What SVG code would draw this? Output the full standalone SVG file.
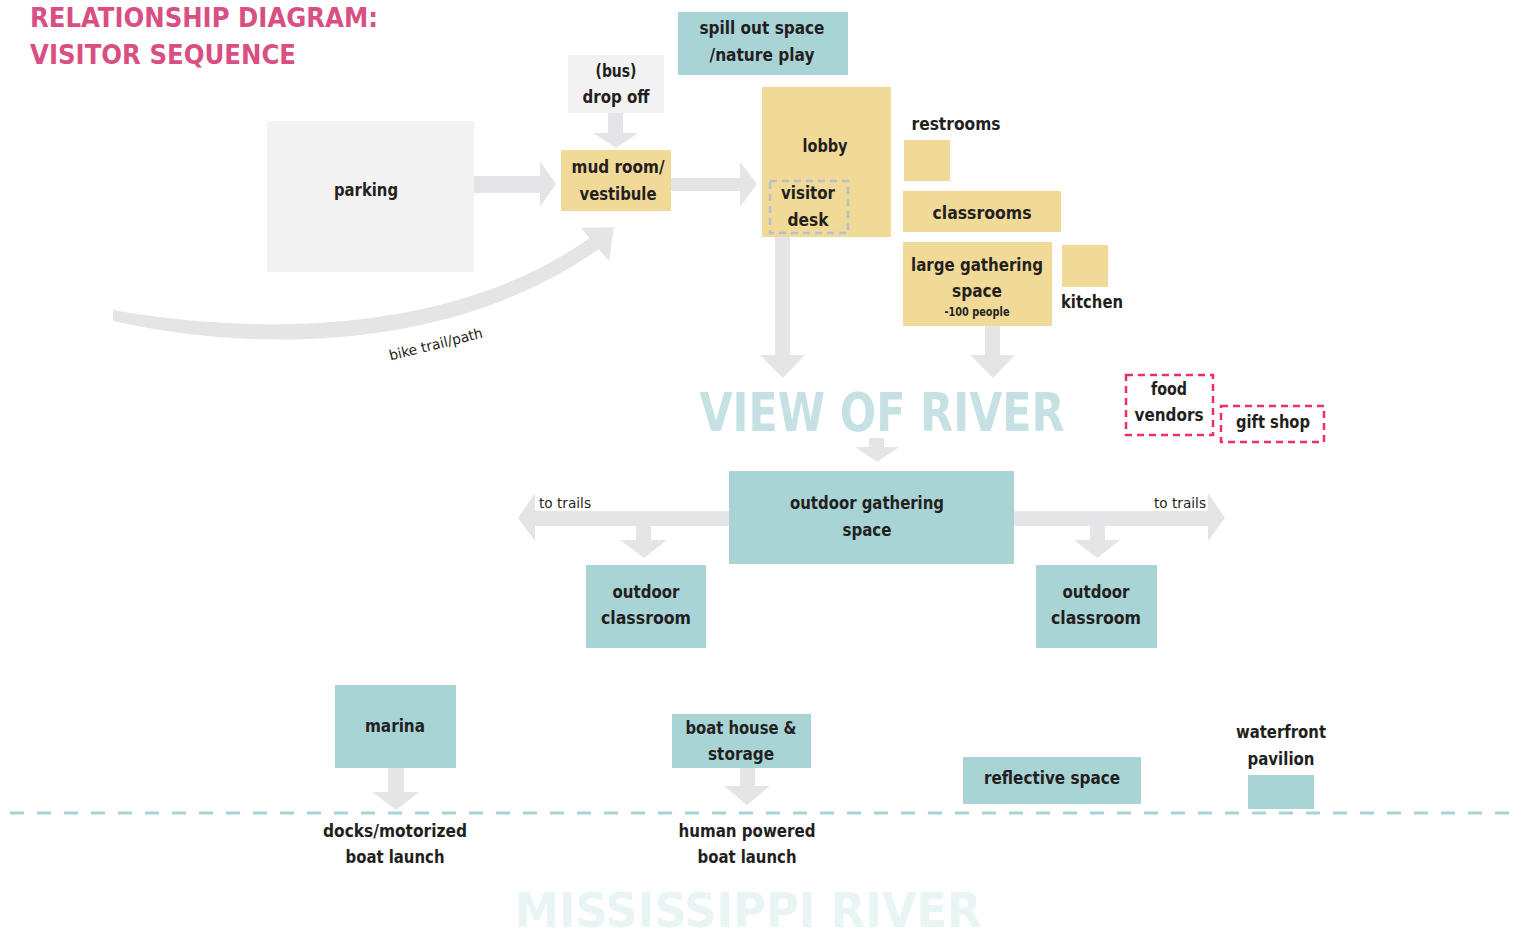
<svg xmlns="http://www.w3.org/2000/svg" width="1514" height="941" viewBox="0 0 1514 941">
<style>
text{font-family:"DejaVu Sans Condensed","DejaVu Sans","Liberation Sans",sans-serif;font-weight:bold;fill:#231f20;text-anchor:middle;font-size:18px}
.t{font-size:14px;font-weight:normal}
.s{font-size:12px}
.title{fill:#d94f84;font-size:27px;text-anchor:start}
.big1{fill:#c6e1e4;font-size:54px}
.big2{fill:#e9f4f5;font-size:48px}
.teal{fill:#a8d4d6}
.yel{fill:#f1da98}
.gry{fill:#f2f2f3}
.arr{fill:#e5e5e7}
.dashg{fill:none;stroke:#b9c0cc;stroke-width:2.5;stroke-dasharray:7 5}
.dashp{fill:none;stroke:#ee2f66;stroke-width:2.5;stroke-dasharray:7 5}
</style>
<rect width="1514" height="941" fill="#ffffff"/>
<g id="title">
<text class="title" x="30" y="27" textLength="348" lengthAdjust="spacingAndGlyphs">RELATIONSHIP DIAGRAM:</text>
<text class="title" x="30" y="64" textLength="266" lengthAdjust="spacingAndGlyphs">VISITOR SEQUENCE</text>
</g>
<g id="connectors">
<polygon class="arr" points="474,176 540,176 540,161 556,184 540,207 540,193 474,193"/>
<polygon class="arr" points="608,113 623,113 623,133 638,133 616,148 593,133 608,133"/>
<polygon class="arr" points="671,178 740,178 740,162 757,184 740,207 740,191 671,191"/>
<polygon class="arr" points="775,237 790,237 790,355 805,355 783,378 760,355 775,355"/>
<polygon class="arr" points="985,326 1000,326 1000,355 1015,355 993,378 970,355 985,355"/>
<polygon class="arr" points="869,438 884,438 884,447 899,447 877,462 855,447 869,447"/>
<polygon class="arr" points="729,511 535,511 535,493 518,518 535,541 535,526 729,526"/>
<polygon class="arr" points="1014,511 1208,511 1208,493 1225,518 1208,541 1208,526 1014,526"/>
<polygon class="arr" points="636,526 651,526 651,540 667,540 644,558 620,540 636,540"/>
<polygon class="arr" points="1090,526 1105,526 1105,540 1120,540 1097,558 1074,540 1090,540"/>
<polygon class="arr" points="388,768 404,768 404,792 419,792 396,810 372,792 388,792"/>
<polygon class="arr" points="740,768 755,768 755,786 770,786 747,805 724,786 740,786"/>
<path d="M113,310 C250,334 450,338 591,237 L599,249 C450,354 250,352 113,321 Z" fill="#e5e5e7"/>
<polygon class="arr" points="614,227 581,228 609,261"/>
<text class="t" transform="translate(437,349) rotate(-14)" textLength="96" lengthAdjust="spacingAndGlyphs">bike trail/path</text>
<line x1="10" y1="813" x2="1510" y2="813" stroke="#a8d4d6" stroke-width="3" stroke-dasharray="14 13"/>
</g>
<g id="parking">
<rect class="gry" x="267" y="121" width="207" height="151"/>
<text x="366" y="196" textLength="64" lengthAdjust="spacingAndGlyphs">parking</text>
</g>
<g id="bus-drop-off">
<rect class="gry" x="568" y="55" width="96" height="58"/>
<text x="616" y="77" textLength="41" lengthAdjust="spacingAndGlyphs">(bus)</text>
<text x="616" y="103" textLength="67" lengthAdjust="spacingAndGlyphs">drop off</text>
</g>
<g id="mud-room">
<rect class="yel" x="561" y="150" width="110" height="61"/>
<text x="618" y="173" textLength="93" lengthAdjust="spacingAndGlyphs">mud room/</text>
<text x="618" y="200" textLength="77" lengthAdjust="spacingAndGlyphs">vestibule</text>
</g>
<g id="spill-out">
<rect class="teal" x="678" y="12" width="170" height="63"/>
<text x="762" y="34" textLength="125" lengthAdjust="spacingAndGlyphs">spill out space</text>
<text x="762" y="61" textLength="105" lengthAdjust="spacingAndGlyphs">/nature play</text>
</g>
<g id="lobby">
<rect class="yel" x="762" y="87" width="129" height="150"/>
<text x="825" y="152" textLength="45" lengthAdjust="spacingAndGlyphs">lobby</text>
</g>
<g id="visitor-desk">
<rect class="dashg" x="770" y="181" width="78" height="52"/>
<text x="808" y="199" textLength="54" lengthAdjust="spacingAndGlyphs">visitor</text>
<text x="808" y="226" textLength="41" lengthAdjust="spacingAndGlyphs">desk</text>
</g>
<g id="restrooms">
<rect class="yel" x="904" y="140" width="46" height="41"/>
<text x="956" y="130" textLength="89" lengthAdjust="spacingAndGlyphs">restrooms</text>
</g>
<g id="classrooms">
<rect class="yel" x="903" y="191" width="158" height="41"/>
<text x="982" y="219" textLength="99" lengthAdjust="spacingAndGlyphs">classrooms</text>
</g>
<g id="large-gathering">
<rect class="yel" x="903" y="242" width="149" height="84"/>
<text x="977" y="271" textLength="132" lengthAdjust="spacingAndGlyphs">large gathering</text>
<text x="977" y="297" textLength="50" lengthAdjust="spacingAndGlyphs">space</text>
<text class="s" x="977" y="316" textLength="65" lengthAdjust="spacingAndGlyphs">-100 people</text>
</g>
<g id="kitchen">
<rect class="yel" x="1062" y="245" width="46" height="42"/>
<text x="1092" y="308" textLength="62" lengthAdjust="spacingAndGlyphs">kitchen</text>
</g>
<g id="view-of-river">
<text class="big1" x="882" y="431" textLength="365" lengthAdjust="spacingAndGlyphs">VIEW OF RIVER</text>
</g>
<g id="food-vendors">
<rect class="dashp" x="1126" y="375" width="87" height="60"/>
<text x="1169" y="395" textLength="36" lengthAdjust="spacingAndGlyphs">food</text>
<text x="1169" y="421" textLength="69" lengthAdjust="spacingAndGlyphs">vendors</text>
</g>
<g id="gift-shop">
<rect class="dashp" x="1221" y="406" width="103" height="36"/>
<text x="1273" y="428" textLength="74" lengthAdjust="spacingAndGlyphs">gift shop</text>
</g>
<g id="outdoor-gathering">
<rect class="teal" x="729" y="471" width="285" height="93"/>
<text x="867" y="509" textLength="154" lengthAdjust="spacingAndGlyphs">outdoor gathering</text>
<text x="867" y="536" textLength="49" lengthAdjust="spacingAndGlyphs">space</text>
</g>
<g id="to-trails-left">
<text class="t" x="565" y="508" textLength="52" lengthAdjust="spacingAndGlyphs">to trails</text>
</g>
<g id="to-trails-right">
<text class="t" x="1180" y="508" textLength="52" lengthAdjust="spacingAndGlyphs">to trails</text>
</g>
<g id="outdoor-classroom-left">
<rect class="teal" x="586" y="565" width="120" height="83"/>
<text x="646" y="598" textLength="67" lengthAdjust="spacingAndGlyphs">outdoor</text>
<text x="646" y="624" textLength="90" lengthAdjust="spacingAndGlyphs">classroom</text>
</g>
<g id="outdoor-classroom-right">
<rect class="teal" x="1036" y="565" width="121" height="83"/>
<text x="1096" y="598" textLength="67" lengthAdjust="spacingAndGlyphs">outdoor</text>
<text x="1096" y="624" textLength="90" lengthAdjust="spacingAndGlyphs">classroom</text>
</g>
<g id="marina">
<rect class="teal" x="335" y="685" width="121" height="83"/>
<text x="395" y="732" textLength="60" lengthAdjust="spacingAndGlyphs">marina</text>
</g>
<g id="docks">
<text x="395" y="837" textLength="144" lengthAdjust="spacingAndGlyphs">docks/motorized</text>
<text x="395" y="863" textLength="99" lengthAdjust="spacingAndGlyphs">boat launch</text>
</g>
<g id="boat-house">
<rect class="teal" x="672" y="714" width="139" height="54"/>
<text x="741" y="734" textLength="111" lengthAdjust="spacingAndGlyphs">boat house &amp;</text>
<text x="741" y="760" textLength="66" lengthAdjust="spacingAndGlyphs">storage</text>
</g>
<g id="human-powered">
<text x="747" y="837" textLength="137" lengthAdjust="spacingAndGlyphs">human powered</text>
<text x="747" y="863" textLength="99" lengthAdjust="spacingAndGlyphs">boat launch</text>
</g>
<g id="reflective-space">
<rect class="teal" x="963" y="757" width="178" height="47"/>
<text x="1052" y="784" textLength="136" lengthAdjust="spacingAndGlyphs">reflective space</text>
</g>
<g id="waterfront-pavilion">
<rect class="teal" x="1248" y="775" width="66" height="34"/>
<text x="1281" y="738" textLength="90" lengthAdjust="spacingAndGlyphs">waterfront</text>
<text x="1281" y="765" textLength="67" lengthAdjust="spacingAndGlyphs">pavilion</text>
</g>
<g id="mississippi-river">
<text class="big2" x="748" y="927" textLength="467" lengthAdjust="spacingAndGlyphs">MISSISSIPPI RIVER</text>
</g>
</svg>
